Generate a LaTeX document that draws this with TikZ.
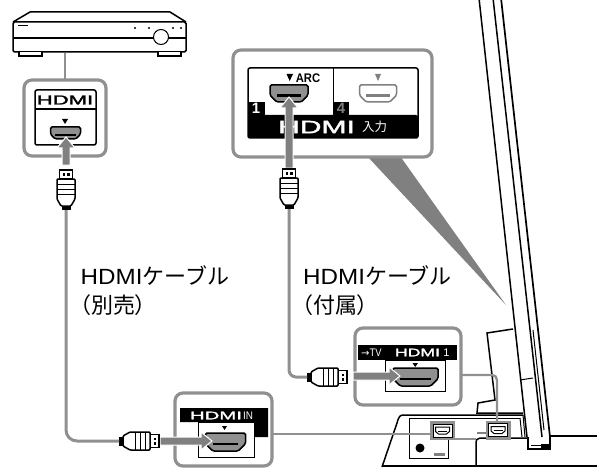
\documentclass[tikz,border=0pt]{standalone}
\usepackage{fontspec}
\setmainfont{Liberation Sans}
\newfontfamily\jpfont{Noto Sans CJK JP}
\newfontfamily\jpp[RawFeature=+palt]{Noto Sans CJK JP}
\newfontfamily\logofont[FakeBold=1.6]{Liberation Sans}
\newfontfamily\boldfont{Liberation Sans Bold}
\newfontfamily\dvfont{DejaVu Sans}
\definecolor{cg}{HTML}{808080}
\definecolor{cl}{HTML}{909090}
\tikzset{
  callout/.style={draw=cl,line width=3.2pt,rounded corners=8pt,fill=white,inner sep=0pt,outer sep=0pt},
  cable/.style={draw=cl,line width=3pt},
  thinwire/.style={draw=cl,line width=2.4pt},
  ink/.style={draw=black,line width=1.5pt},
  thinink/.style={draw=black,line width=1pt},
  fatarrow/.style={fill=cg,draw=white,line width=1pt},
  lbl/.style={font=\jpfont\fontsize{22}{22}\selectfont,inner sep=0pt,anchor=base west,text=black},
  logo/.style={font=\logofont\fontsize{#1}{#1}\selectfont,inner sep=0pt},
  smallb/.style={font=\boldfont\fontsize{#1}{#1}\selectfont,inner sep=0pt},
  thint/.style={font=\fontsize{#1}{#1}\selectfont,inner sep=0pt},
}
\newcommand{\lat}[1]{{\fontspec{Liberation Sans}\fontsize{22}{22}\selectfont\scalebox{1.1}[1]{#1}}}
% [colour]{cx}{top}{width}{height}{fill}
\newcommand{\hport}[6][black]{%
 \begin{scope}[shift={(#2,#3)}]
 \filldraw[draw=#1,line width=1.5pt,fill=#6,rounded corners=1.5pt]
   (-#4/2,0) -- (#4/2,0) -- (#4/2,#5*0.6) -- (#4/2-#5*0.4,#5) -- (-#4/2+#5*0.4,#5) -- (-#4/2,#5*0.6) -- cycle;
 \fill[#1] (-#4/2+#5*0.4,#5*0.55) rectangle (#4/2-#5*0.4,#5*0.55+2.4);
 \end{scope}}
\newcommand{\vplug}[3]{%
 \begin{scope}[shift={(#1,#2)},rotate=#3]
 \filldraw[ink,fill=white] (-6.5,0) rectangle (6.5,9);
 \fill (-3.5,3) rectangle (-1.2,5.5);\fill (1.2,3) rectangle (3.5,5.5);
 \filldraw[ink,fill=white,rounded corners=1pt] (-9,9) -- (9,9) -- (9,29) -- (5,36) -- (-5,36) -- (-9,29) -- cycle;
 \draw[thinink] (-9,14) -- (9,14) (-9,19) -- (9,19) (-9,24) -- (9,24);
 \fill (-4.5,36) rectangle (4.5,40);
 \end{scope}}
% tip at #1,#2; rot=0 points up; #4 = shaft length from tip
\newcommand{\fatup}[4]{%
 \begin{scope}[shift={(#1,#2)},rotate=#3]
 \path[fatarrow] (0,0) -- (9,11) -- (4,11) -- (4,#4) -- (-4,#4) -- (-4,11) -- (-9,11) -- cycle;
 \end{scope}}
\newcommand{\tvport}[2]{%
 \begin{scope}[shift={(#1,#2)}]
 \fill[cl] (-12.5,-9.5) rectangle (12.5,9.5);
 \filldraw[thinink,fill=white] (-9.5,-6.5) rectangle (9.5,6.5);
 \filldraw[thinink,fill=white] (-7,-3.5) -- (7,-3.5) -- (7,1) -- (4,3.5) -- (-4,3.5) -- (-7,1) -- cycle;
 \draw[line width=1pt] (-4.5,0.5) -- (4.5,0.5);
 \end{scope}}
\begin{document}
\begin{tikzpicture}[x=1pt,y=-1pt]
\useasboundingbox (0,0) rectangle (597,468);
% ---- TV
\draw[line width=1.5pt] (479,-2) -- (527,437);
\draw[line width=1.5pt] (493,-2) -- (542,437);
\draw[line width=1.7pt] (501,-2) -- (550,437);
\draw[thinink] (533,330) -- (544,430);
% stand back
\draw[ink] (513,329) -- (487,333) -- (495,400) -- (478,403) -- (477,413) -- (523,413);
\draw[thinink] (520,380) -- (533,378);
% base
\draw[ink] (382,467) -- (397,423) .. controls (399,416) and (400,415) .. (404,415) -- (523,415);
\draw[thinink] (409,418) -- (520,418);
\draw[thinink] (523,415) -- (525,437) (520,418) -- (522,437);
\draw[thinink] (409,418) -- (409,458) -- (448,458) -- (448,440);
\draw[ink] (382,466) -- (597,466);
\draw[ink] (476,466) -- (476,444) .. controls (476,440) and (477,438) .. (480,438) -- (528,438);
\draw[ink] (550,436) -- (597,436);
\draw[ink] (528,437) -- (528,449) -- (550,449) -- (550,436);
\fill (541,444) rectangle (550,449);
\draw[thinink] (531,445) -- (541,445);
\fill (420,448) circle (4.5);
\fill[cg] (434,453) rectangle (445,456);
\fill[cg] (477,432) rectangle (486,434);
\draw[cl,line width=1.5pt] (455,439) -- (476,439);
% back ports
\tvport{442.5}{430.5}
\tvport{498}{430}
\coordinate (portL) at (430,434);
\coordinate (portR) at (497,421);
% ---- wedge
\fill[cg] (367,156) -- (400,156) -- (506,305) -- cycle;
% ---- Device
\draw[ink,fill=white] (13,22) -- (30,12) -- (170,12) -- (186,22);
\node[ink,fill=white,rounded corners=1.5pt,minimum width=173pt,minimum height=30pt,inner sep=0pt] (dev) at (99.5,37) {};
\draw[ink] (13,38) -- (186,38);
\draw[ink,fill=white] (19,52) -- (19,56) -- (42,56) -- (42,52);
\draw[ink,fill=white] (158,52) -- (158,56) -- (181,56) -- (181,52);
\draw[thinink] (18,26) -- (28,26);
\foreach \dx in {135,149,173,181}{\fill (\dx,28) circle (1.1);}
\draw[thinink,fill=white] (161,37) circle (7.5);
% ---- callout A
\node[callout,minimum width=82pt,minimum height=76pt] (boxA) at (65,118) {};
\draw[thinwire] (boxA.north) -- (boxA.north |- dev.south);
\draw[ink,fill=white,rounded corners=2pt] (35,90) rectangle (96,145);
\draw[ink] (35,109) -- (96,109);
\node[logo=13] (hdmiA) at (65,100) {\scalebox{1.7}[1]{HDMI}};
\fill (62,119) -- (68,119) -- (65,124) -- cycle;
\hport{65.5}{127}{30}{12}{cl}
\fatup{66}{137}{0}{28}
\vplug{66}{170}{0}
% ---- callout B
\node[callout,minimum width=199pt,minimum height=107pt] (boxB) at (332.5,103.5) {};
\filldraw[ink,fill=white,rounded corners=2pt] (248,68) rectangle (418,138);
\draw[thinink] (333,68) -- (333,115);
\fill[rounded corners=2pt] (248,115) -- (418,115) -- (418,138) -- (248,138) -- cycle;
\fill (248,102) rectangle (265,116);
\fill (333,102) rectangle (349,116);
\node[smallb=15,text=white] (n1) at (256,108.5) {1};
\node[smallb=15,text=cg] (n4) at (341,108.5) {4};
\node[smallb=12.5] (arc) at (308,78) {\scalebox{.9}[1]{ARC}};
\fill (286.5,74) -- (293,74) -- (289.7,81) -- cycle;
\fill[cg] (375,74) -- (381,74) -- (378,81) -- cycle;
\hport{289}{85}{38}{17}{cl}
\hport[cg]{378}{85}{37}{17}{white}
\node[logo=18,text=white] (hdmiB) at (316.5,127) {\scalebox{1.67}[1]{HDMI}};
\node[font=\jpfont\fontsize{12.5}{12.5}\selectfont,text=white,inner sep=0pt] (nyu) at (374.5,127) {入力};
\fatup{289}{97}{0}{71}
\vplug{289}{169}{0}
% ---- callout C
\node[callout,minimum width=106pt,minimum height=77pt] (boxC) at (408,366.5) {};
\fill (358,345) rectangle (457,360);
\filldraw[thinink,fill=white] (385,360) -- (445,360) -- (445,391) -- (385,391) -- cycle;
\node[thint=11,text=white,anchor=west] (tvC) at (361,352.5) {{\dvfont\fontsize{10}{10}\selectfont →}\scalebox{.85}[1]{TV}};
\node[logo=11,text=white] (hdmiC) at (417.5,352.5) {\scalebox{1.6}[1]{HDMI}};
\node[thint=11,text=white] (oneC) at (446.5,352.5) {1};
\fill (412.5,363) -- (418,363) -- (415.2,367) -- cycle;
\hport{415.5}{368}{45}{18}{cl}
\fatup{400}{376}{-90}{47}
\vplug{347}{377}{-90}
% ---- callout D
\node[callout,minimum width=97pt,minimum height=73pt] (boxD) at (223.5,429.5) {};
\fill (180,408) -- (268,408) -- (268,437) -- (254,437) -- (254,422) -- (180,422) -- cycle;
\filldraw[thinink,fill=white] (198,422) -- (254,422) -- (254,457) -- (198,457) -- cycle;
\node[logo=11,text=white] (hdmiD) at (216,415.5) {\scalebox{1.85}[1]{HDMI}};
\node[thint=11,text=white] (inD) at (248,415.5) {\scalebox{.9}[1]{IN}};
\fill (222,426) -- (227,426) -- (224.5,430) -- cycle;
\hport{225.5}{433}{40}{18}{cl}
\fatup{212}{441}{-90}{52}
\vplug{159}{441}{-90}
% ---- connectors
\coordinate (c1a) at (66,210);
\coordinate (c1b) at (119,441);
\draw[cable,rounded corners=11pt] (c1a) -- (66,441) -- (c1b);
\coordinate (c2a) at (289,209);
\coordinate (c2b) at (307,377);
\draw[cable,rounded corners=7pt] (c2a) -- (289,377) -- (c2b);
\coordinate (w1) at (272,434);
\draw[thinwire] (w1) -- (portL);
\coordinate (w3) at (461,375);
\draw[thinwire,rounded corners=5pt] (w3) -- (497,375) -- (portR);
% ---- labels
\node[lbl] (t1) at (80.5,284) {\lat{HDMI}ケーブル};
\node[lbl] (t2) at (80,313) {{\jpp（}別売{\jpp）}};
\node[lbl] (t3) at (303,284) {\lat{HDMI}ケーブル};
\node[lbl] (t4) at (302,313) {{\jpp（}付属{\jpp）}};
\end{tikzpicture}
\end{document}
